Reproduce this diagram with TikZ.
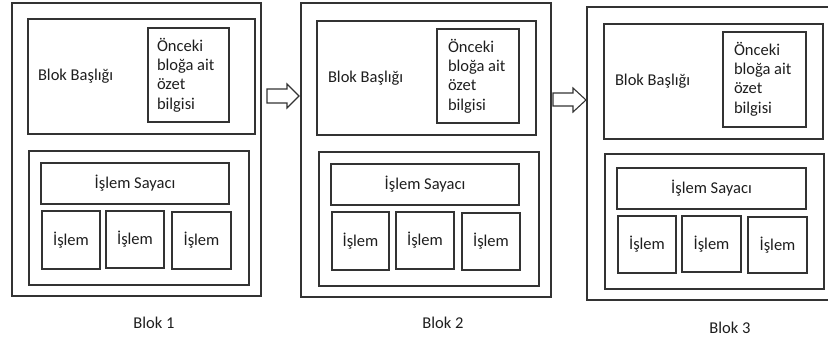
\documentclass[tikz,border=0pt]{standalone}
\usepackage{fontspec}
\setmainfont{Carlito}
\usetikzlibrary{calc}
\definecolor{linegray}{HTML}{333333}
\definecolor{textgray}{HTML}{1E1E1E}
\tikzset{
  txt/.style={text=textgray, font=\fontsize{16.5}{19.3}\selectfont, inner sep=0pt, outer sep=0pt},
  frame/.style={txt, draw=linegray, line width=1.2pt},
  multiline/.style={txt, align=left, anchor=west},
  blockarrow/.style={draw=linegray, line width=1.1pt, fill=white, line join=miter},
}
% rectangle node from its corners: name, x1, y1, x2, y2, text
\newcommand\rbox[6]{%
  \node[frame, minimum width={#4pt-#2pt}, minimum height={#5pt-#3pt}]
    (#1) at ({(#2+#4)/2},{(#3+#5)/2}) {#6};}
\begin{document}
\begin{tikzpicture}[x=1pt, y=-1pt]
  \useasboundingbox (0,0) rectangle (828,338);
  \clip (0,0) rectangle (828,338);

  % Block 1
  \rbox{b1}{12}{3}{261}{296}{}
  \rbox{h1}{28}{19}{255}{134}{}
  \rbox{s1}{148}{28}{229}{122}{}
  \rbox{t1}{29}{151}{249}{285}{}
  \rbox{c1}{41}{163}{229}{204}{İşlem Sayacı}
  \rbox{i11}{42}{211}{100}{269}{İşlem}
  \rbox{i12}{106}{211}{164}{268}{İşlem}
  \rbox{i13}{172}{212}{231}{269}{İşlem}
  \node[multiline] (hl1) at (38,76.5) {Blok Başlığı};
  \node[multiline] (sl1) at (157,75) {Önceki\\bloğa ait\\özet\\bilgisi};
  \node[txt] (n1) at (154,323) {Blok 1};

  % Block 2
  \rbox{b2}{301}{3}{551}{297}{}
  \rbox{h2}{317}{21}{536}{135}{}
  \rbox{s2}{437}{29}{519}{123}{}
  \rbox{t2}{319}{152}{539}{286}{}
  \rbox{c2}{331}{164}{519}{205}{İşlem Sayacı}
  \rbox{i21}{332}{212}{389}{270}{İşlem}
  \rbox{i22}{396}{212}{454}{269}{İşlem}
  \rbox{i23}{462}{213}{520}{270}{İşlem}
  \node[multiline] (hl2) at (328,78) {Blok Başlığı};
  \node[multiline] (sl2) at (448,76) {Önceki\\bloğa ait\\özet\\bilgisi};
  \node[txt] (n2) at (443,323) {Blok 2};

  % Block 3 (runs past the right edge)
  \rbox{b3}{587}{7}{845}{300}{}
  \rbox{h3}{604}{24}{823}{139}{}
  \rbox{s3}{723}{32}{806}{127}{}
  \rbox{t3}{605}{154}{824}{289}{}
  \rbox{c3}{617}{168}{806}{209}{İşlem Sayacı}
  \rbox{i31}{618}{216}{676}{273}{İşlem}
  \rbox{i32}{682}{216}{741}{272}{İşlem}
  \rbox{i33}{748}{217}{807}{273}{İşlem}
  \node[multiline] (hl3) at (615,81) {Blok Başlığı};
  \node[multiline] (sl3) at (734,79) {Önceki\\bloğa ait\\özet\\bilgisi};
  \node[txt] (n3) at (730,328) {Blok 3};

  % block arrows between the blocks
  \draw[blockarrow] (267,89) -- (287,89) -- (287,84) -- (299,96)
    -- (287,108) -- (287,103) -- (267,103) -- cycle;
  \draw[blockarrow] (553,93) -- (573,93) -- (573,88) -- (586,100)
    -- (573,112) -- (573,106) -- (553,106) -- cycle;
\end{tikzpicture}
\end{document}
